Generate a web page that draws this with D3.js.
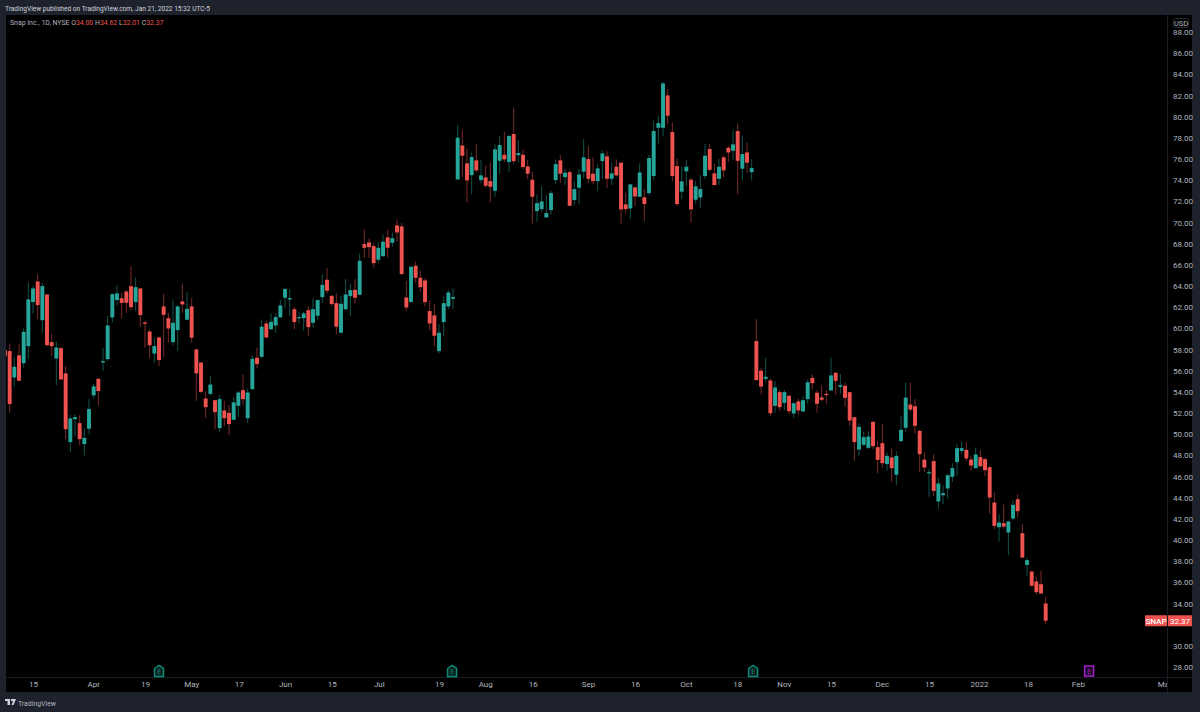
<!DOCTYPE html>
<html><head><meta charset="utf-8">
<style>
html,body{margin:0;padding:0;background:#1e222d;overflow:hidden}
svg{display:block}
text{font-family:Roboto,"Noto Sans",sans-serif}
.axis path,.axis line{display:none}
</style>
<script src="https://cdn.jsdelivr.net/npm/d3@7/dist/d3.min.js"></script>
</head><body><svg id="c" width="1200" height="712"></svg>
<script>
const opens=[57.94,57.85,55.36,57.44,56.71,58.32,62.48,64.43,60.77,63.20,
58.70,57.15,58.13,55.74,49.25,51.42,51.04,49.06,50.51,53.66,
55.23,56.77,57.09,61.03,62.67,62.85,63.48,63.99,62.48,63.77,
60.55,59.70,57.62,59.14,62.07,60.96,58.70,59.83,62.54,60.81,
62.07,58.00,56.77,53.37,53.81,53.21,50.57,52.24,52.02,51.36,
52.68,54.16,51.51,54.26,57.22,57.31,60.46,59.92,60.27,61.03,
62.89,62.73,61.81,61.00,60.96,61.72,60.52,61.19,62.95,64.59,
63.07,62.38,59.58,61.81,63.04,63.64,63.17,67.96,68.12,67.77,
66.48,66.82,68.59,68.08,69.72,69.63,62.92,62.48,65.91,64.78,
64.52,61.63,61.22,57.85,60.59,62.07,62.79,74.07,77.28,75.58,
74.48,75.87,74.01,74.26,73.91,73.00,75.83,76.40,75.71,78.36,
76.37,76.40,75.30,74.04,71.08,71.27,70.48,71.17,74.01,75.87,
74.29,74.76,72.12,73.28,74.80,75.99,74.61,73.91,75.80,76.25,
74.13,75.27,75.65,71.71,71.33,73.32,72.43,72.37,72.78,74.39,
78.95,78.95,82.01,78.54,75.33,72.91,74.83,74.04,72.15,72.37,
74.39,76.94,74.64,74.13,76.15,77.06,76.78,78.64,75.08,76.62,
74.76,58.79,55.99,55.23,55.07,52.68,53.97,52.96,53.62,51.95,
53.09,52.14,53.31,55.32,53.91,53.47,53.81,54.13,55.80,54.47,
54.57,53.97,51.61,48.55,48.99,48.71,51.17,48.77,49.15,47.17,
47.80,46.16,49.34,50.60,52.80,52.64,50.31,47.60,46.33,47.45,
43.64,44.23,44.87,45.97,47.35,48.42,48.52,47.60,46.79,47.83,
47.64,46.88,43.54,41.21,41.59,40.71,42.03,43.86,40.64,37.65,
37.02,36.08,35.82,34.00];
const highs=[58.20,58.57,57.31,58.47,59.99,64.37,63.99,65.12,64.30,63.23,
59.45,58.73,58.19,56.43,51.80,51.89,51.80,50.57,53.31,54.79,
55.29,58.13,61.15,63.30,64.08,63.36,63.61,65.88,64.81,63.80,
60.71,59.89,59.11,59.20,63.23,61.47,62.73,62.19,64.24,63.39,
62.89,58.10,56.77,54.07,55.48,53.21,53.69,53.15,52.74,53.47,
54.10,55.64,54.32,57.41,58.19,60.84,60.77,61.41,61.41,62.67,
63.86,63.71,62.04,61.56,61.56,62.13,62.82,62.73,65.09,65.72,
63.14,63.30,63.07,64.65,64.18,64.65,67.08,69.34,68.49,68.02,
68.12,68.87,69.28,69.06,70.29,69.97,64.46,65.88,66.29,65.50,
64.74,62.67,62.26,60.37,63.07,63.61,63.77,79.21,78.73,77.00,
76.59,77.38,75.90,75.36,75.68,77.38,78.17,78.58,78.32,80.87,
77.79,76.91,75.90,74.80,72.65,73.44,72.59,73.00,75.96,76.37,
75.05,74.95,73.91,75.05,77.88,77.25,76.15,75.49,76.84,76.75,
75.68,75.96,75.65,72.81,73.63,73.38,75.58,73.16,76.37,79.62,
80.09,83.30,82.61,79.46,76.06,75.27,75.90,74.23,73.91,74.48,
77.41,77.41,75.58,75.99,76.37,77.25,78.73,79.36,78.20,77.54,
75.99,60.87,56.21,57.21,55.26,55.04,54.16,54.16,53.69,52.99,
53.37,53.59,55.17,55.64,54.16,54.63,54.16,57.21,55.89,55.67,
54.85,54.00,51.61,51.01,50.28,50.28,51.17,49.37,51.01,48.27,
48.65,48.39,51.70,54.85,54.88,53.31,50.44,48.33,46.69,48.08,
45.90,45.18,46.28,47.23,49.05,49.34,49.24,47.95,48.74,48.49,
47.73,46.97,44.49,42.44,43.35,41.81,43.76,44.33,41.49,38.34,
37.05,36.52,37.08,34.62];
const lows=[57.20,52.02,54.54,55.04,56.30,57.09,61.40,60.87,59.58,58.26,
57.37,54.63,55.17,49.53,48.30,49.81,48.96,47.99,50.00,53.37,
52.71,55.99,56.93,60.55,62.19,60.93,61.47,61.72,61.66,60.15,
58.16,57.18,56.74,56.43,57.31,58.63,58.41,57.88,61.47,60.77,
58.67,53.15,53.91,51.55,53.69,50.44,50.22,50.76,49.91,51.33,
51.64,52.74,51.04,54.16,56.21,57.22,59.04,59.83,59.58,61.03,
61.88,61.19,59.89,60.46,59.77,59.29,60.08,60.84,62.41,63.30,
62.13,59.45,59.58,61.72,61.19,62.35,63.14,66.67,66.67,65.75,
66.19,66.76,66.70,67.71,68.18,65.12,61.66,62.48,64.30,63.45,
62.10,59.83,58.32,57.63,59.29,61.81,61.81,74.07,74.33,71.87,
72.69,74.73,73.69,73.30,71.90,72.43,74.57,75.68,74.80,75.58,
75.68,75.02,74.10,69.91,70.07,71.02,70.48,70.76,73.69,73.76,
73.54,71.58,71.65,71.74,74.17,73.76,73.63,72.97,74.10,73.28,
73.54,74.33,69.85,70.86,70.39,71.55,72.43,70.13,72.59,74.01,
77.47,78.17,79.30,73.91,71.55,72.21,73.44,69.97,71.80,71.39,
74.10,74.80,73.54,73.54,74.26,75.74,75.90,72.69,73.97,74.70,
73.97,55.10,53.78,54.95,51.70,52.02,52.21,52.27,51.89,51.54,
51.80,52.11,52.90,54.25,52.02,53.12,52.84,54.13,53.69,53.84,
52.58,50.79,47.48,47.95,48.90,48.58,48.58,46.31,46.82,46.54,
45.50,45.18,49.28,50.22,52.11,50.06,46.44,46.44,44.08,44.14,
42.97,43.38,43.92,45.50,46.03,48.11,47.45,46.53,46.75,46.85,
46.03,42.50,41.02,39.83,41.08,38.56,41.87,42.09,38.31,36.61,
35.67,34.84,34.94,32.01];
const closes=[57.40,52.84,56.37,55.04,59.67,62.73,63.77,62.19,63.99,58.41,
58.32,58.19,55.17,50.47,51.48,51.61,49.53,49.65,52.37,54.51,
54.07,56.90,60.27,63.23,63.30,62.41,62.41,62.00,63.89,61.25,
60.43,58.41,58.32,57.00,61.28,59.99,60.52,62.07,62.26,61.85,
59.11,55.74,54.00,52.55,54.69,52.08,53.31,51.51,50.95,53.00,
53.94,53.31,53.94,57.12,56.62,60.15,59.14,60.62,61.06,62.16,
63.71,62.86,60.59,61.06,61.41,60.11,61.81,62.67,64.11,63.55,
62.29,60.15,62.32,63.20,63.61,62.89,66.38,67.61,67.67,66.16,
67.61,68.18,67.61,68.52,69.06,65.12,61.97,65.82,64.78,63.89,
62.48,60.46,59.30,59.58,62.38,63.39,62.95,78.01,76.31,73.97,
76.18,74.92,74.45,73.47,73.38,76.91,77.32,75.96,78.17,75.80,
76.56,75.24,74.61,72.43,71.83,71.99,70.89,72.78,75.52,74.61,
74.70,71.58,73.16,74.54,76.15,74.13,73.91,75.11,76.53,74.13,
74.64,74.45,71.24,71.27,73.60,72.46,74.73,71.74,76.09,78.64,
79.39,83.14,80.09,74.39,71.74,73.88,75.27,71.24,73.41,73.16,
76.31,74.98,73.54,75.27,74.92,76.62,77.38,75.83,76.47,75.65,
75.14,55.10,54.50,55.42,51.98,54.41,52.55,53.97,52.17,52.93,
52.24,53.21,54.91,54.82,52.87,53.25,53.69,55.55,55.04,54.63,
53.43,51.29,49.25,50.69,49.72,49.78,48.87,47.57,47.26,47.95,
46.79,47.95,50.41,53.46,52.33,50.79,48.11,46.85,46.41,44.64,
45.34,44.42,46.12,46.79,48.68,48.68,47.70,47.04,48.08,46.97,
46.60,44.01,41.34,41.65,41.27,41.75,43.32,42.72,38.34,38.09,
35.67,35.07,34.94,32.37];
const priceTicks=[88,86,84,82,80,78,76,74,72,70,68,66,64,62,60,58,56,54,52,50,48,46,44,42,40,38,36,34,30,28];
const timeTickIndex=[6,18.9,30,39.9,50.1,60,70,80.1,93,102.9,113.1,124.9,135,145.9,156.9,166.9,177,187.9,198,208.7,219.2,229.9,248.4];
const timeTickLabels=["15","Apr","19","May","17","Jun","15","Jul","19","Aug","16","Sep","16","Oct","18","Nov","15","Dec","15","2022","18","Feb","Mar"];
const earningsIndex=[33,95.8,160.3,232.3];
const earningsKind=["past","past","past","next"];
const lastLabel="SNAP", lastValue=32.37;

const W=1200,H=712;
const plot={l:6,r:1167,t:15,b:677,ax:1192,bot:692};
const RED="#ef5350",GREEN="#26a69a",TXT="#b2b5be",FRAME="#1e222d",LINE="#191c24";
const svg=d3.select("#c");
svg.append("rect").attr("width",W).attr("height",H).attr("fill",FRAME);
svg.append("rect").attr("x",plot.l).attr("y",plot.t).attr("width",plot.ax-plot.l).attr("height",plot.bot-plot.t).attr("fill","#000");
svg.append("line").attr("x1",plot.r+.5).attr("x2",plot.r+.5).attr("y1",plot.t).attr("y2",plot.bot).attr("stroke",LINE);
svg.append("line").attr("x1",plot.l).attr("x2",plot.ax).attr("y1",plot.b+.5).attr("y2",plot.b+.5).attr("stroke",LINE);
svg.append("defs").append("clipPath").attr("id","pc").append("rect").attr("x",plot.l).attr("y",plot.t).attr("width",plot.r-plot.l).attr("height",plot.bot-plot.t);

const x=d3.scaleLinear().domain([0,223]).range([5,1045.7]);
const y=d3.scaleLinear().domain([88,28]).range([32,667]);
const idx=d3.range(closes.length);
const g=svg.append("g").attr("clip-path","url(#pc)");
const col=i=>closes[i]>=opens[i]?GREEN:RED;
g.selectAll("line.w").data(idx).join("line").attr("class","w")
 .attr("x1",i=>x(i)).attr("x2",i=>x(i)).attr("y1",i=>y(highs[i])).attr("y2",i=>y(lows[i]))
 .attr("stroke",col).attr("stroke-width",1).attr("stroke-opacity",.5);
g.selectAll("rect.b").data(idx).join("rect").attr("class","b")
 .attr("x",i=>x(i)-1.95).attr("width",3.9)
 .attr("y",i=>Math.min(y(opens[i]),y(closes[i])))
 .attr("height",i=>Math.max(1.2,Math.abs(y(opens[i])-y(closes[i]))))
 .attr("fill",col);

// earnings markers
const em=g.selectAll("g.e").data(earningsIndex).join("g").attr("class","e")
 .attr("transform",i=>`translate(${x(i)},671)`);
const isNext=i=>earningsKind[earningsIndex.indexOf(i)]==="next";
em.append("path").attr("d",i=>isNext(i)?"M-4.5,-5 H4.5 V5 H-4.5 Z":"M-4.5,-2.5 L0,-5.5 L4.5,-2.5 L4.5,5.5 L-4.5,5.5 Z")
 .attr("fill",i=>isNext(i)?"#1d0a26":"#08211e").attr("stroke",i=>isNext(i)?"#a51fc8":"#0f8a78").attr("stroke-width",1.5);
em.append("text").attr("text-anchor","middle").attr("y",3).attr("font-size",6.5).attr("fill",i=>isNext(i)?"#a51fc8":"#0f8a78").text("E");

// axes
const yAxis=d3.axisRight(y).tickValues(priceTicks).tickSize(0).tickPadding(0).tickFormat(d3.format(".2f"));
const ya=svg.append("g").attr("class","axis").attr("transform",`translate(1173,0)`).call(yAxis);
ya.selectAll("text").attr("font-size",8).attr("fill",TXT);
const tl=d3.scaleOrdinal(timeTickIndex,timeTickLabels);
const xAxis=d3.axisBottom(x).tickValues(timeTickIndex).tickSize(0).tickPadding(0).tickFormat(d=>tl(d));
const xclip=svg.append("g").attr("clip-path","url(#pc)");
const xa=xclip.append("g").attr("class","axis").attr("transform",`translate(0,681)`).call(xAxis);
xa.selectAll("text").attr("font-size",8).attr("fill",TXT);

// USD box
svg.append("rect").attr("x",1173.5).attr("y",18.5).attr("width",15).attr("height",9).attr("rx",2).attr("fill","none").attr("stroke","#2a2e39");
svg.append("text").attr("x",1181).attr("y",26).attr("text-anchor","middle").attr("font-size",7.5).attr("fill",TXT).text("USD");

// last price
const ly=y(lastValue);
svg.append("rect").attr("x",1145).attr("y",ly-5.5).attr("width",22).attr("height",11).attr("rx",1).attr("fill",RED);
svg.append("rect").attr("x",1168).attr("y",ly-5.5).attr("width",24).attr("height",11).attr("fill",RED);
svg.append("text").attr("x",1156).attr("y",ly+3).attr("text-anchor","middle").attr("font-size",8).attr("font-weight",500).attr("fill","#fff").text(lastLabel);
svg.append("text").attr("x",1180).attr("y",ly+3).attr("text-anchor","middle").attr("font-size",8).attr("fill","#fff").text(d3.format(".2f")(lastValue));

// header / legend
svg.append("text").attr("x",5).attr("y",10.5).attr("font-size",7.5).attr("textLength",205).attr("lengthAdjust","spacingAndGlyphs").attr("fill","#d1d4dc").text("TradingView published on TradingView.com, Jan 21, 2022 15:32 UTC-5");
const legendKeys=["O","H","L","C"];
const legendVals=[opens[223],highs[223],lows[223],closes[223]];
const leg=svg.append("text").attr("x",10).attr("y",25).attr("font-size",7.5).attr("textLength",153.5).attr("lengthAdjust","spacingAndGlyphs").attr("fill",TXT).style("white-space","pre");
leg.append("tspan").text("Snap Inc., 1D, NYSE");
legendKeys.forEach((k,i)=>{
  leg.append("tspan").text(" "+k);
  leg.append("tspan").attr("fill",RED).text(d3.format(".2f")(legendVals[i]));
});

// footer
const f=svg.append("g").attr("transform","translate(5,699)");
f.append("path").attr("d","M0,0 H5 V6 H2.5 V2 H0 Z M6,0 H11 L8.5,6 H6.5 L8,2 H6 Z").attr("fill","#d1d4dc");
f.append("text").attr("x",13).attr("y",6.5).attr("font-size",8).attr("textLength",38).attr("lengthAdjust","spacingAndGlyphs").attr("fill","#b2b5be").text("TradingView");
</script></body></html>
